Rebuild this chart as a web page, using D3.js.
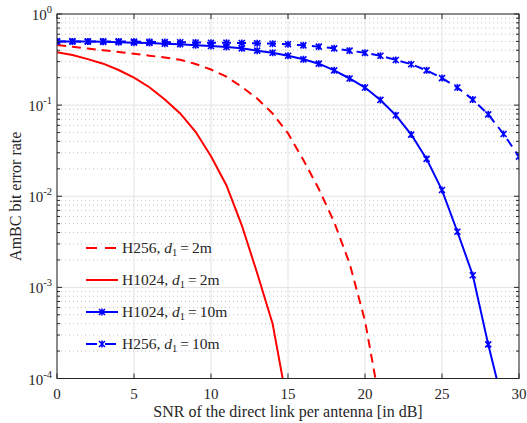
<!DOCTYPE html>
<html>
<head>
<meta charset="utf-8">
<title>AmBC BER</title>
<style>
  body { margin: 0; background: #fff; }
  text { font-family: "Liberation Serif", "DejaVu Serif", serif; fill: #262626; }
</style>
</head>
<body>
<script src="https://cdn.jsdelivr.net/npm/d3@7"></script>
<script>
    // data
    var snrH1024_2m = [0,1,2,3,4,5,6,7,8,9,10,11,12,13,14,15];
    var berH1024_2m = [0.38,0.355,0.32,0.285,0.243,0.2,0.157,0.115,0.081,0.051,0.0275,0.0132,0.0048,0.00143,0.0004,0.000048];

    var snrH256_2m = [0,1,2,3,4,5,6,7,8,9,10,11,12,13,14,15,16,17,18,19,20,21];
    var berH256_2m = [0.457,0.437,0.418,0.4,0.383,0.366,0.349,0.333,0.315,0.283,0.246,0.205,0.159,0.118,0.081,0.049,0.025,0.012,0.0052,0.00183,0.00043,0.00005];

    var snrH1024_10m = [0,1,2,3,4,5,6,7,8,9,10,11,12,13,14,15,16,17,18,19,20,21,22,23,24,25,26,27,28,29];
    var berH1024_10m = [0.5,0.5,0.498,0.495,0.49,0.485,0.48,0.472,0.465,0.455,0.445,0.434,0.42,0.396,0.376,0.348,0.318,0.285,0.241,0.196,0.156,0.114,0.0775,0.0475,0.0257,0.0117,0.00408,0.00136,0.000237,0.000049];

    var snrH256_10m = [0,1,2,3,4,5,6,7,8,9,10,11,12,13,14,15,16,17,18,19,20,21,22,23,24,25,26,27,28,29,30];
    var berH256_10m = [0.5,0.5,0.5,0.5,0.5,0.498,0.495,0.492,0.49,0.487,0.484,0.484,0.48,0.477,0.472,0.465,0.453,0.438,0.42,0.396,0.375,0.348,0.313,0.281,0.241,0.198,0.156,0.115,0.0792,0.0482,0.0272];

    var xTicks = [0,5,10,15,20,25,30];
    var yTicks = [1e-4,1e-3,1e-2,1e-1,1];
    var yTickExp = ["-4","-3","-2","-1","0"];

    var width = 527, height = 423;
    var pLeft = 57, pRight = 519, pTop = 14, pBottom = 378.5;

    var svg = d3.select('body').append('svg')
            .attr('width', width)
            .attr('height', height);

    var x = d3.scaleLinear().domain([0,30]).range([pLeft,pRight]);
    var y = d3.scaleLog().domain([1e-4,1]).range([pBottom,pTop]);

    svg.append('defs').append('clipPath').attr('id','plotclip')
        .append('rect').attr('x',pLeft).attr('y',pTop)
        .attr('width',pRight-pLeft).attr('height',pBottom-pTop);

    // minor y values (2..9 per decade)
    var minorY = [];
    for (var e = -4; e < 0; e++) {
        for (var m = 2; m <= 9; m++) minorY.push(m * Math.pow(10, e));
    }

    var grid = svg.append('g');
    grid.selectAll('line.minor').data(minorY).enter().append('line')
        .attr('x1',pLeft).attr('x2',pRight)
        .attr('y1',function(d){ return y(d); }).attr('y2',function(d){ return y(d); })
        .attr('stroke','#c4c4c4').attr('stroke-width',1)
        .attr('stroke-dasharray','1,3');
    grid.selectAll('line.majy').data(yTicks).enter().append('line')
        .attr('x1',pLeft).attr('x2',pRight)
        .attr('y1',function(d){ return y(d); }).attr('y2',function(d){ return y(d); })
        .attr('stroke','#e3e3e3').attr('stroke-width',1);
    grid.selectAll('line.majx').data(xTicks).enter().append('line')
        .attr('y1',pTop).attr('y2',pBottom)
        .attr('x1',function(d){ return x(d); }).attr('x2',function(d){ return x(d); })
        .attr('stroke','#e3e3e3').attr('stroke-width',1);

    // curves
    var plot = svg.append('g').attr('clip-path','url(#plotclip)');
    var series = [
        {xs: snrH256_2m,  ys: berH256_2m,  color: '#ff0000', dash: '9,6', marker: false, label: 'H256', dist: '2m'},
        {xs: snrH1024_2m, ys: berH1024_2m, color: '#ff0000', dash: null,  marker: false, label: 'H1024', dist: '2m'},
        {xs: snrH1024_10m, ys: berH1024_10m, color: '#0000ff', dash: null, marker: true, label: 'H1024', dist: '10m'},
        {xs: snrH256_10m, ys: berH256_10m, color: '#0000ff', dash: '9,6', marker: true, label: 'H256', dist: '10m'}
    ];

    var markerPath = 'M-3,-3L3,3M-3,3L3,-3M0,-3.5L0,3.5';

    var line = d3.line()
        .x(function(d){ return x(d[0]); })
        .y(function(d){ return y(d[1]); });

    series.forEach(function(s) {
        var pts = s.xs.map(function(v,i){ return [v, s.ys[i]]; });
        plot.append('path')
            .attr('d', line(pts))
            .attr('fill','none')
            .attr('stroke', s.color)
            .attr('stroke-width', 2)
            .attr('stroke-dasharray', s.dash);
        if (s.marker) {
            plot.selectAll(null).data(pts).enter().append('path')
                .attr('d', markerPath)
                .attr('transform', function(d){ return 'translate(' + x(d[0]) + ',' + y(d[1]) + ')'; })
                .attr('fill','none')
                .attr('stroke', s.color)
                .attr('stroke-width', 1.6);
        }
    });

    // axes box and ticks
    var axes = svg.append('g').attr('stroke','#262626');
    axes.append('rect').attr('x',pLeft).attr('y',pTop)
        .attr('width',pRight-pLeft).attr('height',pBottom-pTop)
        .attr('fill','none').attr('stroke-width',1);
    xTicks.forEach(function(d){
        axes.append('line').attr('x1',x(d)).attr('x2',x(d)).attr('y1',pBottom).attr('y2',pBottom-5);
        axes.append('line').attr('x1',x(d)).attr('x2',x(d)).attr('y1',pTop).attr('y2',pTop+5);
    });
    yTicks.forEach(function(d){
        axes.append('line').attr('x1',pLeft).attr('x2',pLeft+5).attr('y1',y(d)).attr('y2',y(d));
        axes.append('line').attr('x1',pRight).attr('x2',pRight-5).attr('y1',y(d)).attr('y2',y(d));
    });
    minorY.forEach(function(d){
        axes.append('line').attr('x1',pLeft).attr('x2',pLeft+3).attr('y1',y(d)).attr('y2',y(d));
        axes.append('line').attr('x1',pRight).attr('x2',pRight-3).attr('y1',y(d)).attr('y2',y(d));
    });

    // tick labels
    svg.selectAll('text.xt').data(xTicks).enter().append('text')
        .attr('x', function(d){ return x(d); })
        .attr('y', 399)
        .attr('text-anchor','middle')
        .attr('font-size', 15)
        .text(function(d){ return d; });

    yTicks.forEach(function(d,i){
        var t = svg.append('text')
            .attr('x', 52)
            .attr('y', y(d) + 6)
            .attr('text-anchor','end')
            .attr('font-size', 15);
        t.append('tspan').text('10');
        t.append('tspan').attr('dy', -7).attr('font-size', 10.5).text(yTickExp[i]);
    });

    // axis labels
    svg.append('text')
        .attr('x', (pLeft+pRight)/2)
        .attr('y', 417)
        .attr('text-anchor','middle')
        .attr('font-size', 16)
        .text('SNR of the direct link per antenna [in dB]');
    svg.append('text')
        .attr('transform','translate(21,' + ((pTop+pBottom)/2) + ') rotate(-90)')
        .attr('text-anchor','middle')
        .attr('font-size', 16)
        .text('AmBC bit error rate');

    // legend
    var legY = [248, 280, 312, 344];
    series.forEach(function(s,i){
        var g = svg.append('g').attr('transform','translate(0,' + legY[i] + ')');
        g.append('line').attr('x1',86).attr('x2',118).attr('y1',0).attr('y2',0)
            .attr('stroke', s.color).attr('stroke-width',2)
            .attr('stroke-dasharray', s.dash ? '11,8' : null);
        if (s.marker) {
            g.append('path').attr('d', markerPath)
                .attr('transform','translate(102,0)')
                .attr('fill','none').attr('stroke', s.color).attr('stroke-width',1.6);
        }
        var t = g.append('text').attr('x',122).attr('y',5).attr('font-size',15.5);
        t.append('tspan').text(s.label + ', ');
        t.append('tspan').attr('font-style','italic').text('d');
        t.append('tspan').attr('dy',3).attr('font-size',10.5).text('1');
        t.append('tspan').attr('dy',-3).attr('dx',3).text('=');
        t.append('tspan').attr('dx',3).text(s.dist);
    });
</script>
</body>
</html>
